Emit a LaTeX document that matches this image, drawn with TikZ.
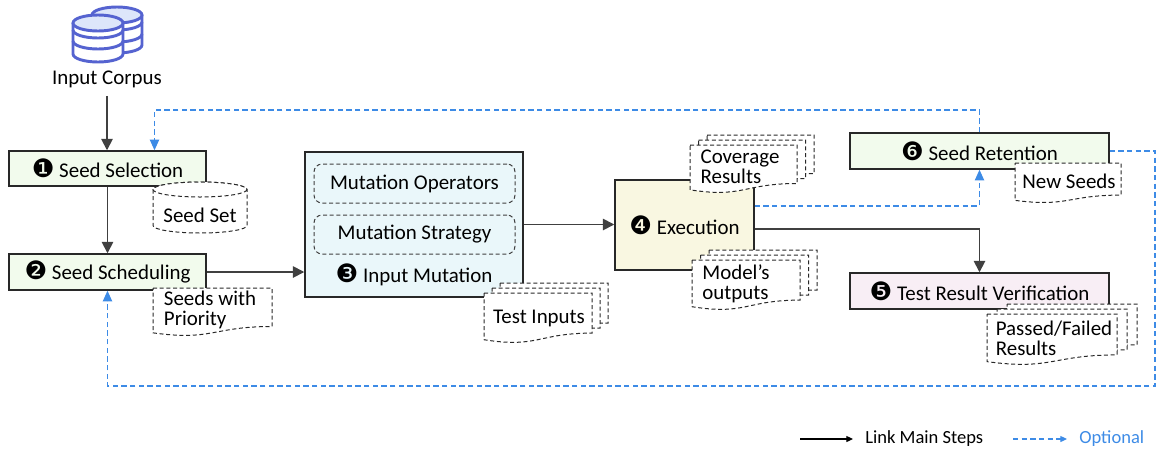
\documentclass[tikz,border=0pt]{standalone}
\usepackage{fontspec}
\setmainfont{Carlito}
\newfontfamily\dingfont{DejaVu Sans}
\usetikzlibrary{arrows.meta,calc}
\definecolor{linegray}{RGB}{64,64,64}
\definecolor{boxgray}{RGB}{40,40,40}
\definecolor{optblue}{RGB}{61,139,230}
\definecolor{dbblue}{RGB}{85,99,208}
\definecolor{dblight}{RGB}{221,230,250}
\definecolor{selgreen}{RGB}{242,251,237}
\definecolor{mutcyan}{RGB}{234,247,250}
\definecolor{exeyellow}{RGB}{249,247,225}
\definecolor{verpink}{RGB}{248,238,245}
\newcommand\nummark[1]{{\dingfont\fontsize{19}{19}\selectfont #1}}
% document outline, corners x1 y1 x2 y2
\newcommand\docshape[4]{(#1,#2) -- (#3,#2) -- (#3,{#2+0.802*(#4-#2)}) .. controls ({(#1+#3)/2},{#2+0.802*(#4-#2)}) and ({(#1+#3)/2},{#2+1.107*(#4-#2)}) .. (#1,{#2+0.934*(#4-#2)}) -- cycle}
% three stacked documents, front corners then offset dx dy
\newcommand\multidoc[6]{%
  \foreach \k in {2,1,0}{%
    \pgfmathsetmacro\ax{#1+\k*#5}\pgfmathsetmacro\ay{#2-\k*#6}%
    \pgfmathsetmacro\bx{#3+\k*#5}\pgfmathsetmacro\by{#4-\k*#6}%
    \draw[docline] \docshape{\ax}{\ay}{\bx}{\by};
  }}

\begin{document}
\begin{tikzpicture}[x=0.75pt,y=0.75pt,yscale=-1,xscale=1,
    stepbox/.style={draw=boxgray,line width=1.1pt,font=\fontsize{15.7}{18}\selectfont},
    subbox/.style={draw=linegray,dash pattern={on 3pt off 2pt},rounded corners=6pt,line width=0.75pt,font=\fontsize{15.7}{18}\selectfont},
    doctext/.style={align=left,inner sep=0pt,font=\fontsize{15.7}{15.2}\selectfont},
    docline/.style={draw=boxgray,fill=white,dash pattern={on 3pt off 2pt},line width=0.75pt},
    mainarrow/.style={linegray,line width=1.3pt,-{Triangle[length=8.5pt,width=8.5pt]}},
    optarrow/.style={optblue,line width=0.9pt,dash pattern={on 4pt off 2.5pt},-{Triangle[length=8pt,width=7pt]}},
    dbline/.style={dbblue,line width=2.2pt},
    legtext/.style={inner sep=0pt,font=\fontsize{13.9}{16}\selectfont}]
\useasboundingbox (0,0) rectangle (1157,451);

%Shape: Database icon
\draw[dbline,fill=white] (92,15) -- (92,45) arc[start angle=180,end angle=0,x radius=25,y radius=8] -- (142,15) ;
\draw[dbline,fill=dblight] (117,15) ellipse[x radius=25,y radius=8] ;
\draw[dbline] (92,22) arc[start angle=180,end angle=0,x radius=25,y radius=8] ;
\draw[dbline] (92,34) arc[start angle=180,end angle=0,x radius=25,y radius=8] ;
\draw[dbline,fill=white] (73,23) -- (73,54) arc[start angle=180,end angle=0,x radius=25,y radius=8] -- (123,23) ;
\draw[dbline,fill=dblight] (98,23) ellipse[x radius=25,y radius=8] ;
\draw[dbline] (73,30) arc[start angle=180,end angle=0,x radius=25,y radius=8] ;
\draw[dbline] (73,41) arc[start angle=180,end angle=0,x radius=25,y radius=8] ;
\node[font=\fontsize{15.7}{18}\selectfont,inner sep=6pt] (corpus) at (107,79) {Input Corpus};

%Shape: Rectangle steps
\node[stepbox,fill=selgreen,minimum width=147.75pt,minimum height=26.25pt] (sel) at (107.5,168.5) {\nummark{❶} Seed Selection};
\node[stepbox,fill=selgreen,minimum width=147.75pt,minimum height=27pt] (sch) at (107.5,272) {\nummark{❷} Seed Scheduling};
\node[stepbox,fill=mutcyan,minimum width=163.5pt,minimum height=108.75pt] (mut) at (414,224.5) {};
\node[subbox,minimum width=150.75pt,minimum height=29.25pt] (mop) at (414.5,183.5) {Mutation Operators};
\node[subbox,minimum width=150.75pt,minimum height=29.25pt] (mst) at (414.5,234.5) {Mutation Strategy};
\node[font=\fontsize{15.7}{18}\selectfont,inner sep=0pt] (mutlbl) at (414,275) {\nummark{❸} Input Mutation};
\node[stepbox,fill=exeyellow,minimum width=104.25pt,minimum height=67.5pt] (exe) at (684.5,225) {\nummark{❹} Execution};
\node[stepbox,fill=selgreen,minimum width=194.25pt,minimum height=27pt] (ret) at (979.5,151) {\nummark{❻} Seed Retention};
\node[stepbox,fill=verpink,minimum width=194.25pt,minimum height=27pt] (ver) at (979.5,291) {\nummark{❺} Test Result Verification};

%Straight Lines main steps
\draw[mainarrow] (corpus.south) -- (corpus.south |- sel.north) ;
\draw[mainarrow] (sel.south) -- (sch.north) ;
\draw[mainarrow] (sch.east) -- (sch.east -| mut.west) ;
\draw[mainarrow] (mut.east) -- (mut.east -| exe.west) ;
\draw[mainarrow] ($(exe.east)+(0,4)$) -| (ver.north) ;

%Straight Lines optional
\coordinate (seltop) at ($(sel.north)+(47,0)$) ;
\coordinate (topy) at (0,110) ;
\coordinate (loopr) at (1155,386) ;
\draw[optarrow] (ret.north) -- (ret.north |- topy) -| (seltop) ;
\draw[optarrow] ($(exe.east)+(0,-19)$) -| (ret.south) ;
\draw[optarrow] (ret.east) -| (loopr) -| (sch.south) ;

%Shape: Cylinder seed set
\draw[docline] (153,189.5) -- (153,225.5) arc[start angle=180,end angle=0,x radius=47,y radius=7.5] -- (247,189.5) arc[start angle=0,end angle=-180,x radius=47,y radius=7.5] -- cycle ;
\draw[docline] (200,189.5) ellipse[x radius=47,y radius=7.5] ;
\node[doctext] (seedset) at (200,215) {Seed Set};

%Shape: Documents
\draw[docline] \docshape{153}{288}{272}{336} ;
\node[doctext] (prio) at (210,310) {Seeds with\\Priority};
\draw[docline] \docshape{1015}{163}{1121}{203} ;
\node[doctext] (newseeds) at (1069,181) {New Seeds};
\multidoc{484}{293}{592}{343}{8}{5}
\node[doctext] (testin) at (539,318) {Test Inputs};
\multidoc{690}{145}{797}{193}{8.5}{5}
\node[doctext] (cover) at (740,167) {Coverage\\Results};
\multidoc{692}{260}{800}{310}{8.5}{5}
\node[doctext] (outputs) at (736,284) {Model’s\\outputs};
\multidoc{987}{314}{1117}{365}{10}{5}
\node[doctext] (verdict) at (1054,338) {Passed/Failed\\Results};

%Legend
\coordinate (lgA) at (800,439) ;
\coordinate (lgB) at (853,439) ;
\coordinate (lgC) at (1013,439) ;
\coordinate (lgD) at (1067,439) ;
\draw[black,line width=0.9pt,-{Triangle[length=5pt,width=4.5pt]}] (lgA) -- (lgB) ;
\node[legtext,anchor=west] (lgmain) at (865,439) {Link Main Steps};
\draw[optblue,line width=0.9pt,dash pattern={on 4pt off 2.5pt},-{Triangle[length=5pt,width=4.5pt]}] (lgC) -- (lgD) ;
\node[legtext,anchor=west,text=optblue] (lgopt) at (1079,439) {Optional};
\end{tikzpicture}
\end{document}
